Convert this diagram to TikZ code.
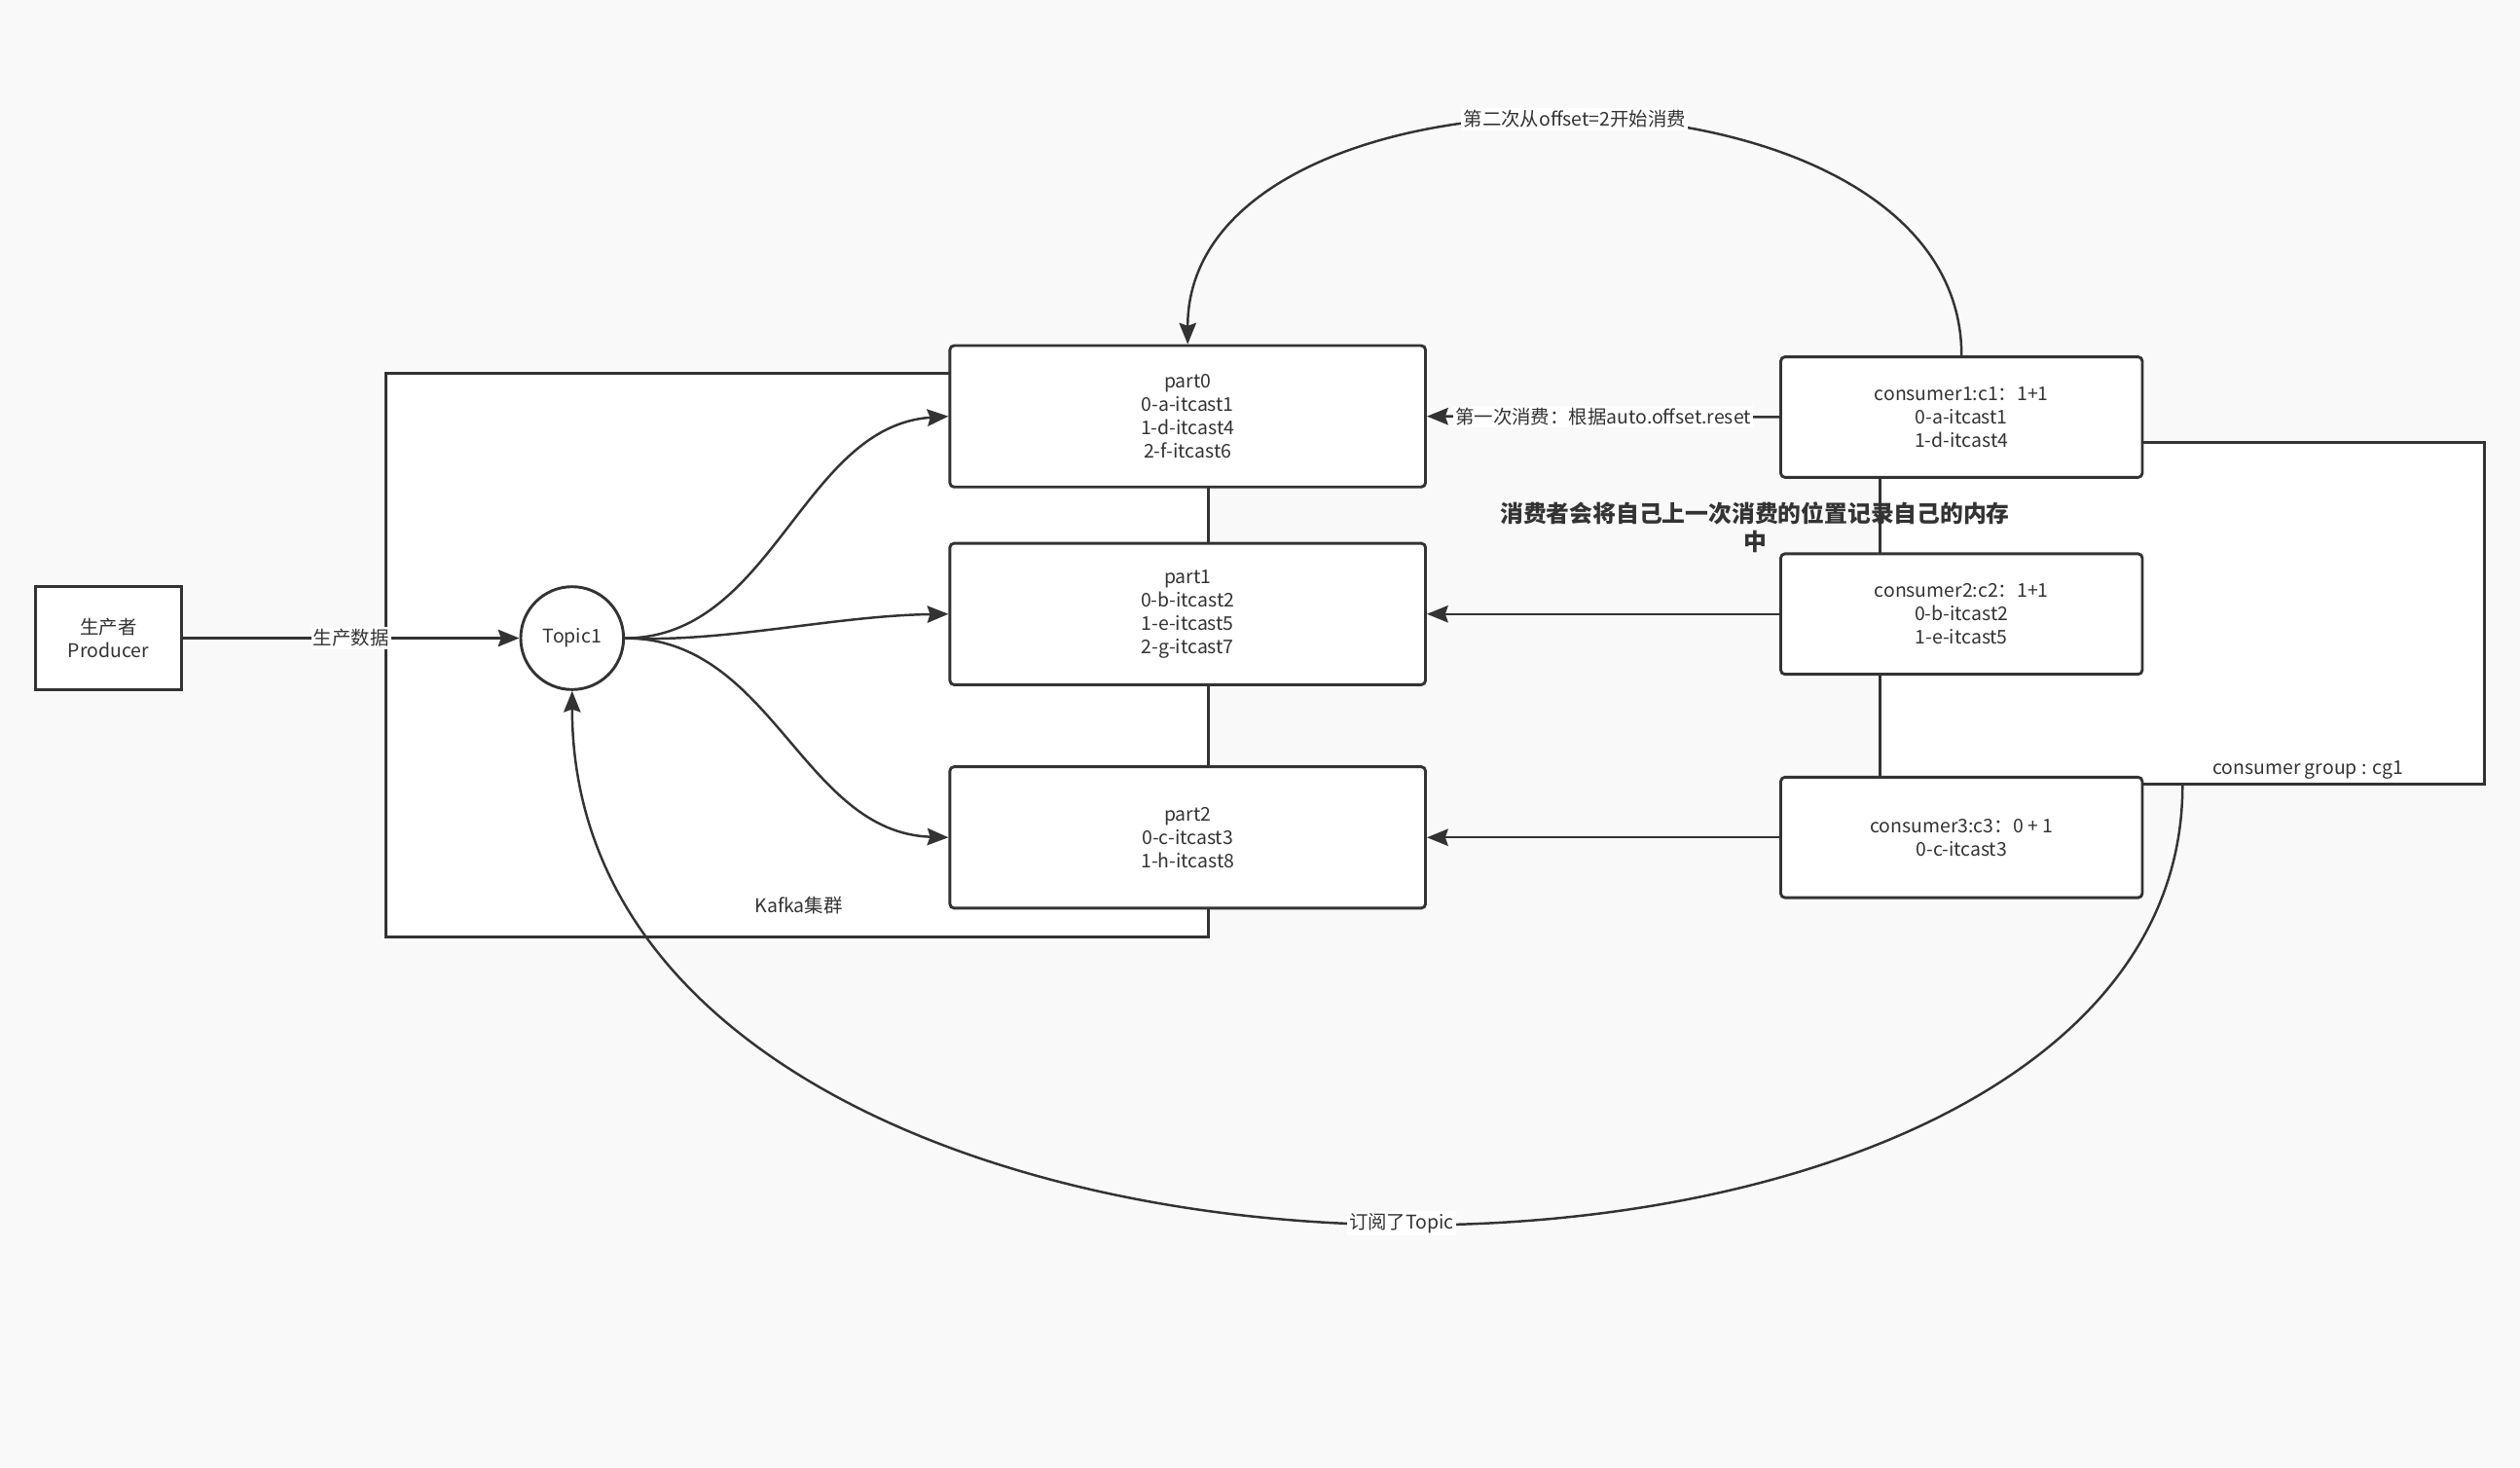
\documentclass[tikz,border=0pt]{standalone}
\usepackage{fontspec}
\setmainfont{Noto Sans CJK SC}
\usetikzlibrary{arrows.meta,positioning}
\definecolor{inkgray}{HTML}{333333}
\definecolor{pagebg}{HTML}{F9F9F9}
\newcommand\diagfont{\fontsize{6.7}{8.25}\selectfont}
\tikzset{
  region/.style={draw=inkgray, fill=white, line width=1pt, inner sep=0pt},
  plainbox/.style={draw=inkgray, fill=white, line width=1pt, align=center,
    font=\diagfont, text=inkgray, inner sep=2pt},
  partbox/.style={plainbox, rounded corners=1.5pt,
    minimum width=5.92cm, minimum height=1.76cm},
  consbox/.style={partbox, minimum width=4.5cm, minimum height=1.5cm},
  topicnode/.style={plainbox, circle, minimum size=1.28cm, inner sep=0pt},
  flow/.style={-{Stealth[length=7.5pt,width=6pt,inset=1pt]}, line width=0.85pt, draw=inkgray},
  elabel/.style={fill=white, inner sep=0.8pt, font=\diagfont, text=inkgray},
  note/.style={font=\diagfont, text=inkgray},
  memo/.style={font=\fontsize{8.2}{10.2}\selectfont\bfseries, align=center, text=inkgray},
}

\begin{document}
\begin{tikzpicture}[x=0.02cm,y=-0.02cm]
  % page
  \fill[pagebg] (0,0) rectangle (1568,913);
  \useasboundingbox (0,0) rectangle (1568,913);

  % cluster and group frames
  \node[region, minimum width=10.24cm, minimum height=7.02cm] (kafka) at (496,407.5) {};
  \node[note] (kafkalbl) at (497,563) {Kafka集群};
  \node[region, minimum width=7.52cm, minimum height=4.26cm] (cg) at (1358,381.5) {};
  \node[note] (cglbl) at (1436,479) {consumer group : cg1};

  % producer and topic
  \node[plainbox, minimum width=1.82cm, minimum height=1.28cm] (producer) at (67.5,397) {生产者\\Producer};
  \node[topicnode] (topic) at (356,397) {Topic1};

  % partitions
  \node[partbox] (part0) at (739,259) {part0\\0-a-itcast1\\1-d-itcast4\\2-f-itcast6};
  \node[partbox] (part1) at (739,382) {part1\\0-b-itcast2\\1-e-itcast5\\2-g-itcast7};
  \node[partbox] (part2) at (739,521) {part2\\0-c-itcast3\\1-h-itcast8};

  % consumers
  \node[consbox] (cons1) at (1220.5,259.5) {consumer1:c1：1+1\\0-a-itcast1\\1-d-itcast4};
  \node[consbox] (cons2) at (1220.5,382) {consumer2:c2：1+1\\0-b-itcast2\\1-e-itcast5};
  \node[consbox] (cons3) at (1220.5,521) {consumer3:c3：0 + 1\\0-c-itcast3};

  \node[memo] (memo) at (1092,328) {消费者会将自己上一次消费的位置记录自己的内存\\中};

  % producing
  \draw[flow] (producer.east) -- node[elabel] (prodlbl) {生产数据} (topic.west);
  \draw[flow] (topic.east) .. controls +(92,0) and +(-91,6) .. (part0.west);
  \draw[flow] (topic.east) .. controls +(62,3) and +(-71,1) .. (part1.west);
  \draw[flow] (topic.east) .. controls +(92,0) and +(-91,-3) .. (part2.west);

  % consuming
  \draw[flow] (cons1.west) -- node[elabel] (firstlbl) {第一次消费：根据auto.offset.reset} (part0.east);
  \draw[flow] (cons2.west) -- (part1.east);
  \draw[flow] (cons3.west) -- (part2.east);
  \draw[flow] (cons1.north) .. controls +(0,-195) and +(0,-188) ..
    node[elabel, pos=0.5] (secondlbl) {第二次从offset=2开始消费} (part0.north);
  \draw[flow] (cg.south) .. controls +(0,372) and +(0,431) ..
    node[elabel, pos=0.49] (sublbl) {订阅了Topic} (topic.south);
\end{tikzpicture}
\end{document}
